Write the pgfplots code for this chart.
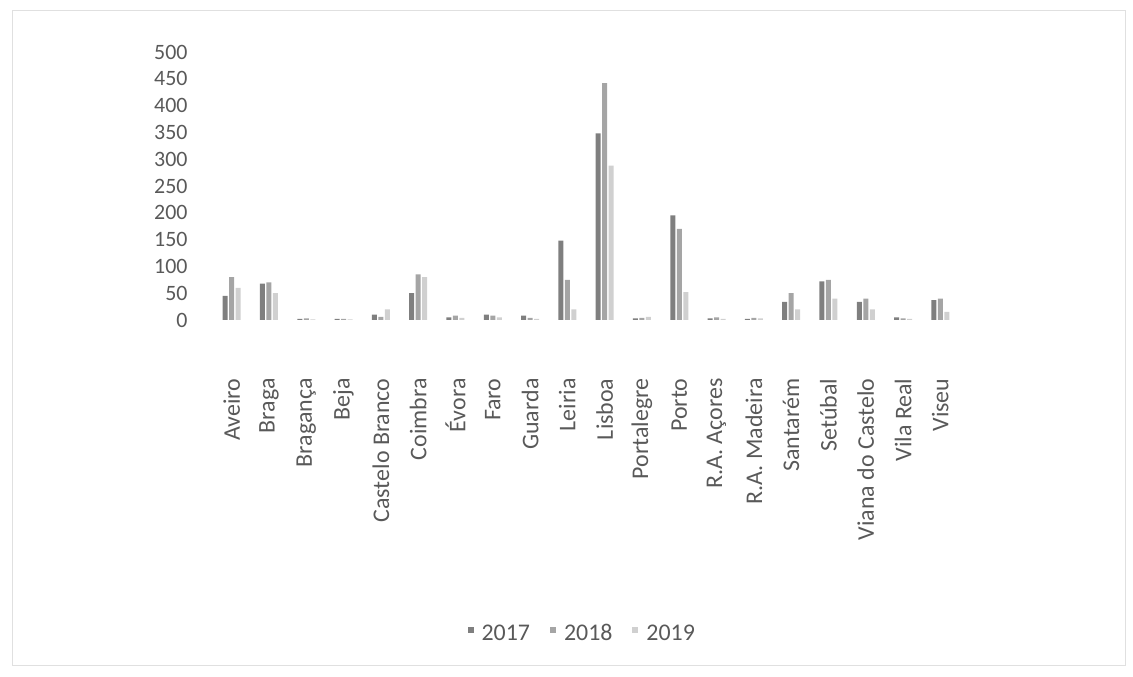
\documentclass[border=0pt]{standalone}
\usepackage{pgfplots}
\pgfplotsset{compat=1.18}
\usepackage{pgfplotstable}
\usepackage{fontspec}
\setmainfont{Carlito}

\definecolor{cA}{HTML}{7F7F7F}
\definecolor{cB}{HTML}{A5A5A5}
\definecolor{cC}{HTML}{D0D0D0}
\definecolor{txt}{HTML}{595959}

% district, 2017, 2018, 2019
\pgfplotstableread{
x y2017 y2018 y2019
0 45 80 60
1 68 70 50
2 2 3 1
3 2 2 1
4 10 6 20
5 50 85 80
6 5 8 4
7 10 8 5
8 8 4 2
9 148 75 20
10 348 442 288
11 3 4 6
12 195 170 52
13 3 5 2
14 2 4 3
15 34 50 20
16 72 75 40
17 34 40 20
18 5 3 2
19 37 40 15
}\dados

\begin{document}
\begin{tikzpicture}
\path[use as bounding box] (0,0) rectangle (1133bp,677bp);
\draw[black!12] (12bp,12bp) rectangle (1125bp,667bp);
\begin{axis}[
    at={(213bp,357bp)}, anchor=south west,
    scale only axis,
    width=746bp, height=268bp,
    ybar=1.5bp, bar width=5bp,
    xmin=-0.5, xmax=19.5,
    ymin=0, ymax=500,
    ytick={0,50,...,500},
    xtick=data,
    xticklabels={Aveiro,Braga,Bragança,Beja,Castelo Branco,Coimbra,Évora,Faro,Guarda,Leiria,Lisboa,Portalegre,Porto,R.A. Açores,R.A. Madeira,Santarém,Setúbal,Viana do Castelo,Vila Real,Viseu},
    xticklabel style={rotate=90, anchor=east, font=\fontsize{24}{28}\selectfont},
    xticklabel shift=55bp,
    yticklabel shift=22bp,
    yticklabel style={font=\fontsize{22}{26}\selectfont},
    ticklabel style={text=txt},
    /pgf/number format/assume math mode=true,
    axis line style={draw=none},
    major tick length=0pt,
    legend style={at={(0.495,-1.175)}, anchor=center, draw=none, fill=none,
        legend columns=3, font=\fontsize{24}{28}\selectfont, text=txt,
        nodes={text height=0.7em, text depth=0.05em},
        /tikz/every odd column/.append style={column sep=6bp},
        /tikz/every even column/.append style={column sep=18bp}},
    legend image code/.code={\fill[#1] (0bp,4bp) rectangle (6bp,10bp);},
]
\addplot[draw=none, fill=cA] table[x=x, y=y2017] {\dados};
\addplot[draw=none, fill=cB] table[x=x, y=y2018] {\dados};
\addplot[draw=none, fill=cC] table[x=x, y=y2019] {\dados};
\legend{2017,2018,2019}
\end{axis}
\end{tikzpicture}
\end{document}
